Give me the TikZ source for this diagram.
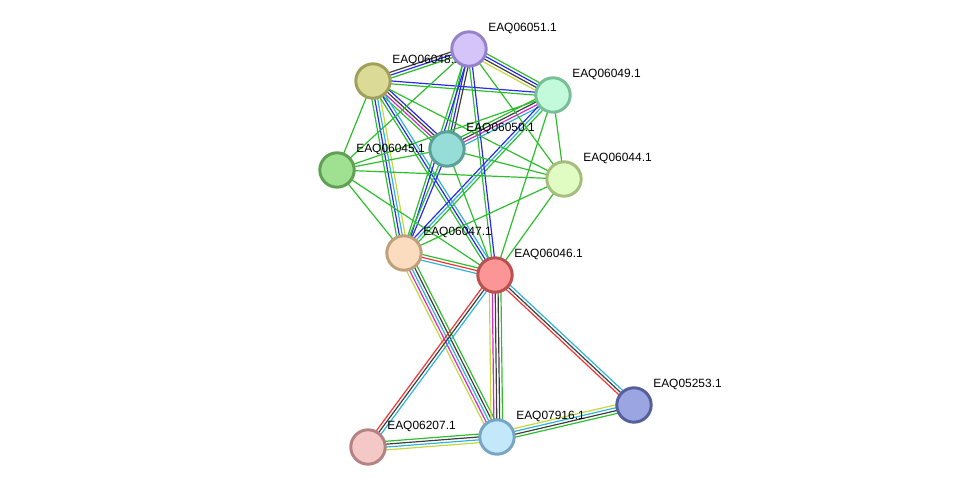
\documentclass[tikz,border=0pt]{standalone}
\usepackage{fontspec}
\setmainfont{Liberation Sans}
\usetikzlibrary{calc}

\definecolor{cgreen}{RGB}{44,190,44}
\definecolor{cblue}{RGB}{40,40,245}
\definecolor{cgrey}{RGB}{62,62,62}
\definecolor{cred}{RGB}{250,50,50}
\definecolor{cmag}{RGB}{210,40,210}
\definecolor{ccyan}{RGB}{45,180,220}
\definecolor{cyel}{RGB}{196,216,60}

\tikzstyle{prot}=[circle, minimum size=0.86cm, inner sep=0pt, line width=2.1pt]
\tikzstyle{edge}=[line width=0.85pt]
\tikzstyle{lbl}=[anchor=west, inner sep=0pt, font=\fontsize{8.5}{10}\selectfont]

\pgfdeclarelayer{edges}
\pgfdeclarelayer{labels}
\pgfsetlayers{edges,labels,main}

% parallel coloured lines between two proteins
\newcommand{\link}[3]{%
  \foreach \col [count=\k] in {#3} {\xdef\nlines{\k}}
  \foreach \col [count=\i] in {#3} {
    \pgfmathsetmacro{\off}{(\i-(\nlines+1)/2)*0.072}
    \draw[edge, draw=\col] ($(#1)!\off cm!90:(#2)$) -- ($(#2)!\off cm!-90:(#1)$);
  }
}

\begin{document}
\begin{tikzpicture}[x=0.025cm, y=-0.025cm]
\useasboundingbox (0,0) rectangle (976,493);

\node(n51)[prot, fill={rgb,255:red,212;green,196;blue,250}, draw={rgb,255:red,150;green,130;blue,200}] at (469,49){};
\node(n48)[prot, fill={rgb,255:red,219;green,218;blue,150}, draw={rgb,255:red,160;green,160;blue,90}] at (373,81){};
\node(n49)[prot, fill={rgb,255:red,195;green,250;blue,220}, draw={rgb,255:red,120;green,190;blue,150}] at (553,95){};
\node(n50)[prot, fill={rgb,255:red,150;green,220;blue,215}, draw={rgb,255:red,90;green,160;blue,150}] at (447,149){};
\node(n45)[prot, fill={rgb,255:red,160;green,224;blue,145}, draw={rgb,255:red,95;green,160;blue,85}] at (337,170){};
\node(n44)[prot, fill={rgb,255:red,225;green,252;blue,195}, draw={rgb,255:red,165;green,190;blue,125}] at (564,179){};
\node(n47)[prot, fill={rgb,255:red,252;green,220;blue,190}, draw={rgb,255:red,190;green,160;blue,125}] at (404,253){};
\node(n46)[prot, fill={rgb,255:red,252;green,150;blue,150}, draw={rgb,255:red,185;green,80;blue,80}] at (495,275){};
\node(n53)[prot, fill={rgb,255:red,155;green,165;blue,225}, draw={rgb,255:red,85;green,95;blue,155}] at (634,405){};
\node(n07)[prot, fill={rgb,255:red,245;green,200;blue,200}, draw={rgb,255:red,180;green,130;blue,130}] at (368,447){};
\node(n16)[prot, fill={rgb,255:red,195;green,232;blue,250}, draw={rgb,255:red,120;green,165;blue,195}] at (497,437){};

\begin{pgfonlayer}{labels}
\node(l51)[lbl] at ($(n51)+(19,-21)$){EAQ06051.1};
\node(l48)[lbl] at ($(n48)+(19,-21)$){EAQ06048.1};
\node(l49)[lbl] at ($(n49)+(19,-21)$){EAQ06049.1};
\node(l50)[lbl] at ($(n50)+(19,-21)$){EAQ06050.1};
\node(l45)[lbl] at ($(n45)+(19,-21)$){EAQ06045.1};
\node(l44)[lbl] at ($(n44)+(19,-21)$){EAQ06044.1};
\node(l47)[lbl] at ($(n47)+(19,-21)$){EAQ06047.1};
\node(l46)[lbl] at ($(n46)+(19,-21)$){EAQ06046.1};
\node(l53)[lbl] at ($(n53)+(19,-21)$){EAQ05253.1};
\node(l07)[lbl] at ($(n07)+(19,-21)$){EAQ06207.1};
\node(l16)[lbl] at ($(n16)+(19,-21)$){EAQ07916.1};
\end{pgfonlayer}

\begin{pgfonlayer}{edges}
\link{n48}{n51}{cgreen,cblue,cgrey}
\link{n51}{n49}{cyel,cgrey,cblue,cgreen}
\link{n48}{n49}{cgreen,cblue}
\link{n48}{n50}{cgreen,cmag,cgrey,cblue}
\link{n49}{n50}{cgreen,cgrey,cmag,ccyan}
\link{n51}{n50}{cgreen,cblue,cgrey}
\link{n48}{n47}{cgreen,cblue,ccyan,cyel}
\link{n48}{n46}{cgreen,cblue,ccyan}
\link{n51}{n47}{cgreen,cblue}
\link{n49}{n47}{cblue,ccyan,cgreen}
\link{n51}{n46}{cgreen,cblue}
\link{n50}{n47}{cgreen,cblue}
\link{n50}{n46}{cgreen}
\link{n49}{n46}{cgreen}
\link{n45}{n48}{cgreen}
\link{n45}{n51}{cgreen}
\link{n45}{n50}{cgreen}
\link{n45}{n49}{cgreen}
\link{n45}{n44}{cgreen}
\link{n45}{n47}{cgreen}
\link{n45}{n46}{cgreen}
\link{n44}{n48}{cgreen}
\link{n44}{n51}{cgreen}
\link{n44}{n49}{cgreen}
\link{n44}{n50}{cgreen}
\link{n44}{n47}{cgreen}
\link{n44}{n46}{cgreen}
\link{n47}{n46}{ccyan,cred,cgreen}
\link{n47}{n16}{cyel,cmag,ccyan,cgrey,cgreen}
\link{n46}{n16}{cyel,cmag,cgrey,cgrey,cgreen}
\link{n46}{n07}{cred,cgrey,ccyan}
\link{n46}{n53}{cred,cgrey,ccyan}
\link{n16}{n53}{cgreen,cgrey,ccyan,cyel}
\link{n07}{n16}{cyel,ccyan,cgrey,cgreen}
\end{pgfonlayer}

\end{tikzpicture}
\end{document}
